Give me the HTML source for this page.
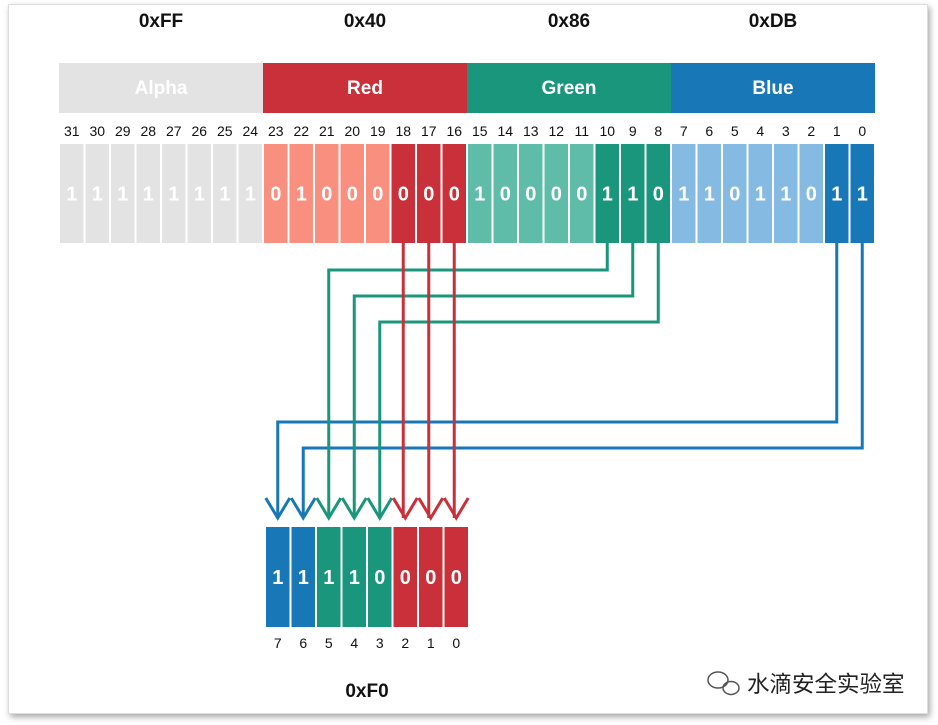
<!DOCTYPE html>
<html><head><meta charset="utf-8"><style>
html,body{margin:0;padding:0;background:#fff;}
body{width:938px;height:725px;position:relative;overflow:hidden;font-family:"Liberation Sans","Noto Sans CJK SC",sans-serif;}
#frame{position:absolute;left:8px;top:4px;width:918px;height:708px;border:1px solid #ddd;box-shadow:2px 3px 6px rgba(0,0,0,0.35);background:#fff;}
svg{position:absolute;left:0;top:0;}
</style></head><body>
<div id="frame"></div>
<svg id="chart" width="938" height="725"></svg>
<script>
const hexLabels=["0xFF","0x40","0x86","0xDB"];
const channelNames=["Alpha","Red","Green","Blue"];
const pixelBits=[1,1,1,1,1,1,1,1, 0,1,0,0,0,0,0,0, 1,0,0,0,0,1,1,0, 1,1,0,1,1,0,1,1];
const resultBits=[1,1,1,1,0,0,0,0];
const resultLabel="0xF0";
const mapping=[30,31,21,22,23,13,14,15];
const chColor=["#e3e3e3","#c9303a","#1a967c","#1877b7"];
const chLight=["#e3e3e3","#f98f7f","#5fbca8","#85bbe3"];
const lineY=[422,448,270,296,322,null,null,null];

const svg=document.getElementById('chart');
const NS="http://www.w3.org/2000/svg";
function mk(t,a,p){const e=document.createElementNS(NS,t);for(const k in a)e.setAttribute(k,a[k]);(p||svg).appendChild(e);return e;}
const X0=59,CW=25.5,TOP=144,H=99;
function cx(i){return X0+i*CW+CW/2;}
for(let c=0;c<4;c++){
  const t=mk('text',{x:X0+c*8*CW+4*CW,y:27,'text-anchor':'middle','font-size':19,'font-weight':'bold',fill:'#111'});
  t.textContent=hexLabels[c];
  
  
  const r=mk('rect',{x:X0+c*8*CW,y:63,width:8*CW,height:50,fill:chColor[c]});
  
  
  const tt=mk('text',{x:X0+c*8*CW+4*CW,y:94,'text-anchor':'middle','font-size':19,'font-weight':'bold',fill:'#fff'});
  tt.textContent=channelNames[c];
  
  
}
const colOfRes=i=>chColor[Math.floor(mapping[i]/8)];
for(let i=0;i<8;i++){
  const sx=cx(mapping[i]),dx=265+i*CW+CW/2,col=colOfRes(i);
  let d;
  if(lineY[i]==null) d=`M${sx},${TOP+H} L${sx},518`;
  else d=`M${sx},${TOP+H} L${sx},${lineY[i]} L${dx},${lineY[i]} L${dx},518`;
  const p=mk('path',{d:d,fill:'none',stroke:col,'stroke-width':3});
  
  
  const a=mk('path',{d:`M${dx-12},498 L${dx},518 L${dx+12},498`,fill:'none',stroke:col,'stroke-width':3});
  
  
}
for(let i=0;i<32;i++){
  const c=Math.floor(i/8);
  const hi=(c===1&&i>=13)||(c===2&&i>=21)||(c===3&&i>=30);
  const n=mk('text',{x:cx(i),y:136,'text-anchor':'middle','font-size':14,fill:'#111'});
  n.textContent=31-i;
  
  
  const r=mk('rect',{x:X0+i*CW+1,y:TOP,width:CW-2,height:H,fill:hi?chColor[c]:chLight[c]});
  
  
  const t=mk('text',{x:cx(i),y:TOP+H/2+7,'text-anchor':'middle','font-size':20,'font-weight':'bold',fill:'#fff'});
  t.textContent=pixelBits[i];
  
  
}
for(let i=0;i<8;i++){
  const x=265+i*CW;
  const r=mk('rect',{x:x+1,y:527,width:CW-2,height:100,fill:colOfRes(i)});
  
  
  const t=mk('text',{x:x+CW/2,y:584,'text-anchor':'middle','font-size':20,'font-weight':'bold',fill:'#fff'});
  t.textContent=resultBits[i];
  
  
  const n=mk('text',{x:x+CW/2,y:648,'text-anchor':'middle','font-size':14,fill:'#111'});
  n.textContent=7-i;
  
  
}
const rl=mk('text',{x:367,y:697,'text-anchor':'middle','font-size':19,'font-weight':'bold',fill:'#111'});
rl.textContent=resultLabel;


const wm=mk('text',{x:747,y:692,'font-size':22.5,fill:'#222'});
wm.textContent="水滴安全实验室";


const ic=mk('g',{fill:'none',stroke:'#555','stroke-width':1.5});


mk('ellipse',{cx:718,cy:680,rx:10,ry:8},ic);
mk('ellipse',{cx:731,cy:688,rx:8,ry:6.5},ic);
</script>
</body></html>
